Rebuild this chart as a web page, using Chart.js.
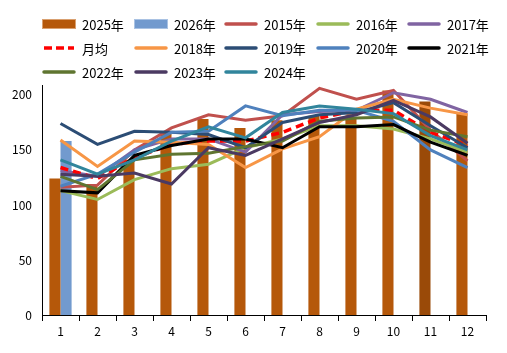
<!DOCTYPE html>
<html>
<head>
<meta charset="utf-8">
<script src="https://cdn.jsdelivr.net/npm/chart.js@4/dist/chart.umd.min.js"></script>
<style>
html,body{margin:0;padding:0;background:#fff;}
#wrap{width:507px;height:353px;position:relative;}
</style>
</head>
<body>
<div id="wrap"><canvas id="c" width="507" height="353"></canvas></div>
<script>
const months = ['1','2','3','4','5','6','7','8','9','10','11','12'];
const yTicks = [0, 50, 100, 150, 200];

const v2025 = [124, 119, 141, 166, 178, 170, 177, 181, 180, 204, 194, 183];
const v2026 = [158, null, null, null, null, null, null, null, null, null, null, null];
const v2015 = [116, 118, 150, 170, 182, 177, 181, 206, 196, 204, 168, 140];
const v2016 = [113, 105, 123, 133, 137, 152, 160, 172, 172, 169, 160, 148];
const v2017 = [131, 126, 150, 160, 160, 148, 182, 185, 186, 202, 196, 184];
const vAvg  = [134, 124, 143, 155, 158, 158, 166, 179, 186, 186, 166, 154];
const v2018 = [159, 135, 158, 157, 155, 134, 151, 162, 187, 196, 188, 182];
const v2019 = [174, 155, 167, 166, 164, 152, 175, 182, 184, 193, 172, 152];
const v2020 = [117, 128, 148, 166, 167, 190, 181, 186, 186, 176, 150, 134];
const v2021 = [113, 111, 145, 154, 160, 160, 152, 171, 171, 173, 157, 145];
const v2022 = [126, 114, 141, 146, 147, 153, 158, 176, 179, 180, 168, 162];
const v2023 = [128, 126, 129, 119, 152, 145, 160, 175, 182, 195, 180, 156];
const v2024 = [141, 128, 141, 158, 171, 161, 184, 190, 187, 183, 163, 150];

const lineSeries = [
  {label:'2015年', data:v2015, color:'#C0504D'},
  {label:'2016年', data:v2016, color:'#9BBB59'},
  {label:'2017年', data:v2017, color:'#8064A2'},
  {label:'月均',   data:vAvg,  color:'#FF0000', dash:[8,5]},
  {label:'2018年', data:v2018, color:'#F79646'},
  {label:'2019年', data:v2019, color:'#2C4D75'},
  {label:'2020年', data:v2020, color:'#4F81BD'},
  {label:'2021年', data:v2021, color:'#000000'},
  {label:'2022年', data:v2022, color:'#5F7530'},
  {label:'2023年', data:v2023, color:'#4B3A62'},
  {label:'2024年', data:v2024, color:'#31859C'}
];

const barColor2025 = months.map((m,i)=> i===10 ? '#9A4A08' : '#B5580A');

const datasets = [
  {type:'bar', label:'2025年', data:v2025, backgroundColor:barColor2025, borderWidth:0, order:50,
   categoryPercentage:0.6, barPercentage:1.0, legendColor:'#B5580A', legendBorder:'#D9A070'},
  {type:'bar', label:'2026年', data:v2026, backgroundColor:'#729ACE', borderWidth:0, order:50,
   categoryPercentage:0.6, barPercentage:1.0, legendColor:'#729ACE', legendBorder:'#A9C2E3'}
];
lineSeries.forEach((s,i)=>{
  datasets.push({
    type:'line', label:s.label, data:s.data, borderColor:s.color, backgroundColor:s.color,
    borderWidth: s.dash ? 3.5 : 3, borderDash: s.dash || [], pointRadius:0, tension:0, fill:false,
    order: lineSeries.length - i, borderCapStyle:'butt', borderJoinStyle:'miter'
  });
});

const FONT = '"Noto Sans CJK SC", "Noto Sans", sans-serif';

const gridLegend = {
  id:'gridLegend',
  afterDraw(chart){
    const ctx = chart.ctx;
    const cols = [42, 134, 224, 316, 407];
    const rows = [24, 48, 72];
    const boxW = 34;
    ctx.save();
    ctx.font = '13px ' + FONT;
    ctx.textBaseline = 'middle';
    ctx.textAlign = 'left';
    chart.data.datasets.forEach((ds, i)=>{
      const c = i % 5, r = Math.floor(i / 5);
      const x = cols[c], y = rows[r];
      if (ds.type === 'bar') {
        ctx.fillStyle = ds.legendColor;
        ctx.fillRect(x, y - 5, boxW, 10);
        ctx.strokeStyle = ds.legendBorder;
        ctx.lineWidth = 1;
        ctx.strokeRect(x + 0.5, y - 4.5, boxW - 1, 9);
      } else {
        ctx.strokeStyle = ds.borderColor;
        ctx.lineWidth = 3.5;
        ctx.lineCap = ds.borderDash && ds.borderDash.length ? 'butt' : 'round';
        ctx.setLineDash(ds.borderDash && ds.borderDash.length ? [8,4] : []);
        ctx.beginPath();
        ctx.moveTo(x + 2, y);
        ctx.lineTo(x + boxW - 2, y);
        ctx.stroke();
        ctx.setLineDash([]);
      }
      ctx.fillStyle = '#000';
      ctx.fillText(ds.label, x + boxW + 6, y + 1);
    });
    ctx.restore();
  }
};

new Chart(document.getElementById('c'), {
  data:{labels:months, datasets:datasets},
  plugins:[gridLegend],
  options:{
    responsive:false,
    animation:false,
    layout:{padding:{top:85, right:21, left:0, bottom:0}},
    plugins:{legend:{display:false}, tooltip:{enabled:false}, title:{display:false}},
    scales:{
      x:{
        type:'category',
        offset:true,
        grid:{display:true, drawOnChartArea:false, drawTicks:true, tickLength:6, color:'#000', offset:true, lineWidth:1},
        border:{display:true, color:'#000', width:1},
        ticks:{color:'#000', font:{size:12, family:FONT}, padding:3, maxRotation:0},
        afterFit(s){ s.height = 38; }
      },
      y:{
        min:0, max:209,
        grid:{display:false, drawTicks:false},
        border:{display:true, color:'#000', width:1},
        ticks:{color:'#000', font:{size:12, family:FONT}, padding:10, stepSize:50},
        afterBuildTicks(s){ s.ticks = yTicks.map(v=>({value:v})); },
        afterFit(s){ s.width = 42; }
      }
    }
  }
});
</script>
</body>
</html>
